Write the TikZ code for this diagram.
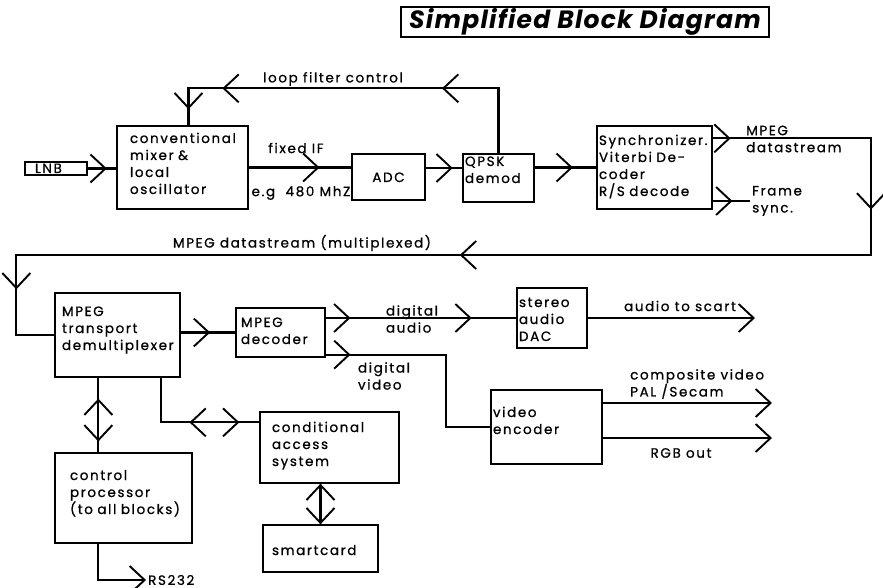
\documentclass[tikz,border=0pt]{standalone}
\usepackage{fontspec}
\setmainfont{Poppins}[LetterSpace=12, FakeBold=0.8]
\newfontfamily\titlefont{Poppins}[LetterSpace=5]
\usetikzlibrary{arrows.meta, calc, decorations.markings}
\newcommand{\blkfont}{\fontsize{13.5}{17}\selectfont}

\begin{document}
\begin{tikzpicture}[x=1pt, y=-1pt, >={Straight Barb[length=15pt, width=28pt, line width=1.9pt]}]

  % Styles
  \tikzset{
    blk/.style={draw, line width=1.3pt, align=left, inner ysep=0pt, font=\blkfont},
    dims/.style n args={4}{inner xsep=#1, text width=#2, text height=#3, text depth=#4},
    lbl/.style={inner sep=2pt, align=left, font=\blkfont},
    wire/.style={line width=2.2pt},
    fwd/.style={postaction={decorate, decoration={markings, mark=at position #1 with {\arrow{>}}}}},
    bwd/.style={postaction={decorate, decoration={markings, mark=at position #1 with {\arrowreversed{>}}}}},
    titlebox/.style={draw, line width=1.8pt, minimum width=368pt, minimum height=30pt, inner sep=0pt,
      font=\titlefont\fontsize{25}{28}\selectfont\bfseries\itshape}
  }
  \useasboundingbox (0,0) rectangle (883,588);

  % --- Title ---
  \node[titlebox] (title) at (585,22) {Simplified Block Diagram};

  % --- Front end: tuner, ADC, demodulator ---
  \node[blk, dims={10pt}{42pt}{11pt}{2pt}] (lnb) at (56,168.5) {LNB};
  \node[blk, dims={13pt}{105pt}{17pt}{66pt}] (mixer) at (182.5,167.5) {conventional\\mixer \&\\local\\oscillator};
  \node[blk, align=center, dims={0pt}{73pt}{28pt}{18pt}] (adc) at (388.5,177) {ADC};
  \node[blk, dims={2pt}{67pt}{12pt}{36pt}] (qpsk) at (498.5,178) {QPSK\\demod};
  \node[blk, dims={2pt}{111pt}{19pt}{64pt}] (sync) at (654.5,167.5) {Synchronizer.\\Viterbi De-\\coder\\R/S decode};

  % --- Back end: demultiplexer, decoders, access ---
  \node[blk, dims={7pt}{111pt}{23pt}{61pt}] (demux) at (117.5,335) {MPEG\\transport\\demultiplexer};
  \node[blk, dims={5pt}{79pt}{19pt}{30pt}] (mpegdec) at (280.5,332.5) {MPEG\\decoder};
  \node[blk, dims={2pt}{66pt}{19pt}{41pt}] (dac) at (552,318) {stereo\\audio\\DAC};
  \node[blk, dims={2pt}{107pt}{27pt}{47pt}] (venc) at (546.5,427) {video\\encoder};
  \node[blk, dims={15pt}{107pt}{27pt}{63pt}] (ctrl) at (123.5,498) {control\\processor\\(to~all~blocks)};
  \node[blk, dims={12pt}{115pt}{20pt}{51pt}] (ca) at (329.5,447.5) {conditional\\access\\system};
  \node[blk, dims={9pt}{97pt}{30pt}{17pt}] (smart) at (320.5,548.5) {smartcard};

  % --- Labels and free ends ---
  \node[lbl] (loopl) at (333,79) {loop filter control};
  \node[lbl] (ifl) at (296,148) {fixed IF};
  \node[lbl] (egl) at (301,193) {e.g\ \ 480 MhZ};
  \node[lbl, anchor=west] (mpegl) at (744,139) {MPEG\\datastream};
  \node[lbl, anchor=west] (frame) at (750,201) {Frame\\sync.};
  \node[lbl] (muxl) at (302,243) {MPEG datastream (multiplexed)};
  \node[lbl] (dal) at (412,319) {digital\\audio};
  \node[lbl] (dvl) at (384,376) {digital\\video};
  \node[lbl] (scartl) at (680,306) {audio to scart};
  \node[lbl, anchor=west] (compl) at (628,384) {composite video\\PAL /Secam};
  \node[lbl] (rgbl) at (681,453) {RGB out};
  \node[lbl, anchor=west] (rs) at (146,580) {RS232};
  \coordinate (scart) at (755,318);
  \coordinate (comp) at (772,403);
  \coordinate (rgb) at (772,438);

  % --- Signal path ---
  \draw[wire, fwd=0.67] (lnb.east) -- (lnb.east -| mixer.west);
  \draw[wire, fwd=0.69] (mixer.east) -- (mixer.east -| adc.west);
  \draw[wire, fwd=0.74] ($(adc.east)+(0,-9)$) coordinate (a1) -- (a1 -| qpsk.west);
  \draw[wire, fwd=0.62] (qpsk.east |- sync.west) -- (sync.west);
  \draw[wire, fwd=0.295, fwd=0.828, fwd=0.961] (qpsk.north) -- ++(0,-65) -| ($(mixer.north)+(6,0)$);
  \draw[wire, fwd=0.0144, fwd=0.184, fwd=0.55, fwd=0.933] ($(sync.north east)+(0,13)$) -| (871,255) -| ($(demux.west)+(-38,0)$) -- (demux.west);
  \draw[wire, fwd=0.53] (frame.west -| sync.east) -- (frame.west);

  % --- Decoding and outputs ---
  \draw[wire, fwd=0.54] (demux.east |- mpegdec.west) -- (mpegdec.west);
  \draw[wire, fwd=0.13, fwd=0.766] (mpegdec.east |- dac.west) -- (dac.west);
  \draw[wire, ->] (scart -| dac.east) -- (scart);
  \draw[wire, fwd=0.105] ($(mpegdec.south east)+(0,-3)$) -| ($(venc.west)+(-44,0)$) -- (venc.west);
  \draw[wire, ->] (comp -| venc.east) -- (comp);
  \draw[wire, ->] (rgb -| venc.east) -- (rgb);

  % --- Control and access ---
  \draw[wire, fwd=0.72, bwd=0.145] (ctrl.north west) ++(44,0) coordinate (c1) -- (c1 |- demux.south);
  \draw[wire, bwd=0.51, fwd=0.86] (demux.south west) ++(107,0) |- ($(ca.north west)+(0,11)$);
  \draw[wire, <->] (smart.north) -- (smart.north |- ca.south);
  \draw[wire, ->] (ctrl.south west) ++(44,0) |- (rs.west);

\end{tikzpicture}
\end{document}
